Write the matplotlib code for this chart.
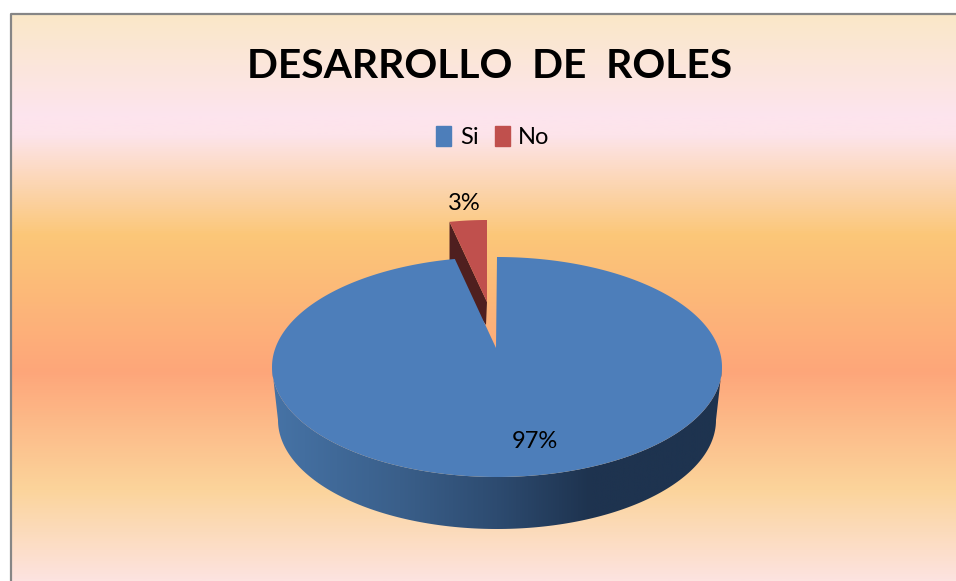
import numpy as np
import matplotlib
matplotlib.use('Agg')
import matplotlib.pyplot as plt
from matplotlib.colors import LinearSegmentedColormap
from matplotlib.patches import Polygon, Patch

categorias = ['Si', 'No']
valores = [97, 3]
etiquetas = ['97%', '3%']
titulo = 'DESARROLLO  DE  ROLES'

plt.rcParams['font.family'] = ['Lato', 'DejaVu Sans']

W, H = 956, 581
AZUL, ROJO = '#4D7EBA', '#C0504D'

# geometria en pixeles de la imagen
cx, cy, rx, ry = 497, 367, 225, 110
cx_b, cy_b, rx_b, ry_b = 497, 420, 219, 109
apice = (496, 348)
apice_rojo = (487, 302)
cx_r, cy_r, rx_r, ry_r = 487, 325, 200, 105


def arco(xc, yc, a, b, t0, t1, n=200):
    t = np.radians(np.linspace(t0, t1, n))
    return np.column_stack([xc + a * np.cos(t), yc - b * np.sin(t)])


fig = plt.figure(figsize=(W / 100, H / 100), dpi=100, facecolor='white')
ax = fig.add_axes([0, 0, 1, 1])
ax.set_xlim(0, W)
ax.set_ylim(H, 0)
ax.axis('off')

# fondo degradado
y_fondo = np.array([14, 115, 135, 235, 372, 490, 581])
col_fondo = ['#FAE8C8', '#FDE4EE', '#FDE4EA', '#FBC778', '#FEA67A', '#FBD49B', '#FDE3E0']
cmap_fondo = LinearSegmentedColormap.from_list(
    'fondo', list(zip((y_fondo - 14) / (581 - 14), col_fondo)))
ax.imshow(np.linspace(0, 1, 512).reshape(-1, 1), cmap=cmap_fondo, aspect='auto',
          extent=[11, W, H, 14], zorder=0, vmin=0, vmax=1)
ax.set_xlim(0, W)
ax.set_ylim(H, 0)
ax.plot([11, 11, W], [H, 14, 14], color='#868686', lw=1.6, zorder=1)

# angulos de los sectores, en sentido horario desde arriba
angulo = 360 * np.array(valores) / sum(valores)
fin_azul = 90 - angulo[0]
ini_rojo = 90 + angulo[1]

# sector rojo separado
arco_rojo = arco(cx_r, cy_r, rx_r, ry_r, ini_rojo, 90, 30)
ax.add_patch(Polygon([arco_rojo[0], apice_rojo, (486, 325), (arco_rojo[0][0], 275)],
                     color='#4F1F1F', lw=0, zorder=2))
ax.add_patch(Polygon(np.vstack([arco_rojo, apice_rojo]), color=ROJO, lw=0, zorder=3))

# pared lateral del sector azul
borde = np.vstack([arco(cx, cy, rx, ry, 180, 360), arco(cx_b, cy_b, rx_b, ry_b, 360, 180)])
pared = Polygon(borde, transform=ax.transData, fc='none', lw=0)
ax.add_patch(pared)
x_pared = [272, 400, 497, 590, 722]
col_pared = ['#4673A6', '#3A5F8A', '#2D4B70', '#1E334F', '#1E334F']
cmap_pared = LinearSegmentedColormap.from_list(
    'pared', list(zip((np.array(x_pared) - 272) / 450, col_pared)))
im = ax.imshow(np.linspace(0, 1, 512).reshape(1, -1), cmap=cmap_pared, aspect='auto',
               extent=[272, 722, 540, 360], zorder=4, vmin=0, vmax=1)
im.set_clip_path(pared)
ax.set_xlim(0, W)
ax.set_ylim(H, 0)

# cara superior del sector azul
ax.add_patch(Polygon(np.vstack([arco(cx, cy, rx, ry, 90, fin_azul, 400), apice]),
                     color=AZUL, lw=0, zorder=5))

ax.text(490, 67, titulo, ha='center', va='center', fontsize=29.3, fontweight='bold',
        color='black', zorder=6)
ax.text(535, 441, etiquetas[0], ha='center', va='center', fontsize=17, zorder=6)
ax.text(464, 203, etiquetas[1], ha='center', va='center', fontsize=17, zorder=6)

ax.legend(handles=[Patch(color=AZUL, label=categorias[0]), Patch(color=ROJO, label=categorias[1])],
          loc='center', bbox_to_anchor=(493, 137), bbox_transform=ax.transData, ncol=2,
          frameon=False, fontsize=17, handlelength=0.64, handleheight=0.9,
          handletextpad=0.35, columnspacing=0.7, borderpad=0)

fig.savefig('out.png', dpi=100)
